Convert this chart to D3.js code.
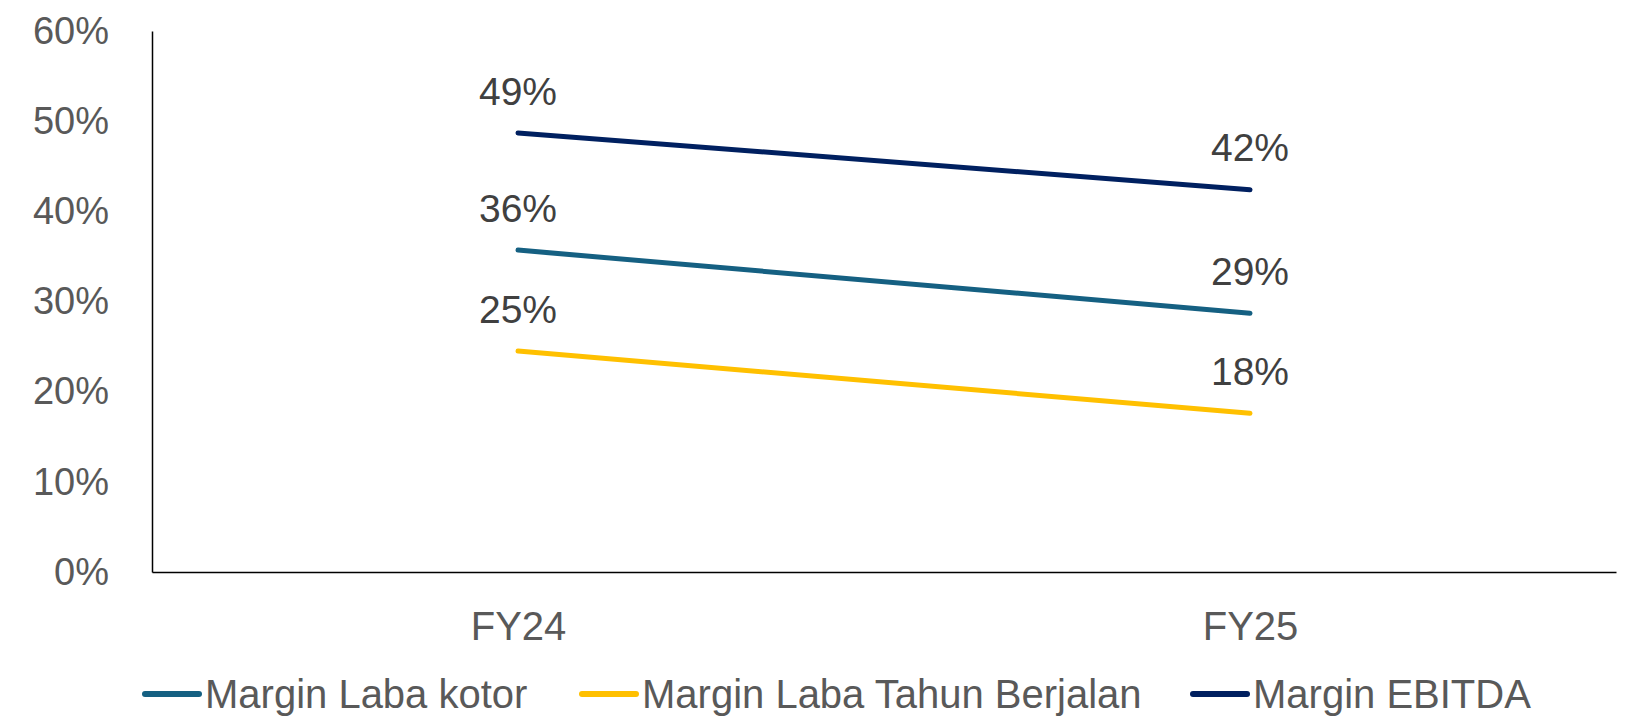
<!DOCTYPE html>
<html>
<head>
<meta charset="utf-8">
<script src="https://cdn.jsdelivr.net/npm/d3@7"></script>
<style>
  body { margin: 0; background: #fff; }
  .yaxis text { font-family: "Liberation Sans", Arial, sans-serif; font-size: 38px; fill: #595959; }
  .xaxis text { font-family: "Liberation Sans Narrow", "Arial Narrow", sans-serif; font-size: 40px; fill: #595959; }
  .lbl { font-family: "Liberation Sans", Arial, sans-serif; font-size: 39px; fill: #404040; }
  .legend text { font-family: "Liberation Sans Narrow", "Arial Narrow", sans-serif; font-size: 40px; fill: #595959; }
</style>
</head>
<body>
<div id="chart"></div>
<script>
(function () {

var categories = ['FY24', 'FY25'];
var seriesNames = ['Margin Laba kotor', 'Margin Laba Tahun Berjalan', 'Margin EBITDA'];
var seriesColors = ['#156082', '#FFC000', '#002060'];
var labaKotor = [0.357, 0.287];
var labaTahunBerjalan = [0.245, 0.176];
var ebitda = [0.487, 0.424];
var yTicks = [0, 0.1, 0.2, 0.3, 0.4, 0.5, 0.6];

var series = [labaKotor, labaTahunBerjalan, ebitda];

var W = 1629, H = 722;
var margin = {top: 31, right: 13, bottom: 150, left: 152},
    width = W - margin.left - margin.right,
    height = 572 - margin.top;

var pct = d3.format('.0%');

var svg = d3.select('#chart').append('svg')
    .attr('width', W)
    .attr('height', H);

var chart = svg.append('g')
    .attr('transform', 'translate(' + margin.left + ',' + margin.top + ')');

var x = d3.scalePoint()
    .domain(categories)
    .range([0, width])
    .padding(0.5);

var y = d3.scaleLinear()
    .domain([0, 0.6])
    .range([height, 0]);

var yAxis = d3.axisLeft(y)
    .tickValues(yTicks)
    .tickFormat(pct)
    .tickSize(0)
    .tickPadding(43);

var xAxis = d3.axisBottom(x)
    .tickSize(0)
    .tickPadding(40);

var gy = chart.append('g')
    .attr('class', 'yaxis')
    .call(yAxis);
gy.select('.domain').attr('stroke', '#000').attr('stroke-width', 1.5);

var gx = chart.append('g')
    .attr('class', 'xaxis')
    .attr('transform', 'translate(0,' + height + ')')
    .call(xAxis);
gx.select('.domain').attr('stroke', '#000').attr('stroke-width', 1.5);
gx.selectAll('text').attr('dy', '0.71em');

var line = d3.line()
    .x(function (d, i) { return x(categories[i]); })
    .y(function (d) { return y(d); });

series.forEach(function (vals, si) {
    chart.append('path')
        .attr('d', line(vals))
        .attr('fill', 'none')
        .attr('stroke', seriesColors[si])
        .attr('stroke-width', 5)
        .attr('stroke-linecap', 'round');

    chart.selectAll('.lbl-' + si)
        .data(vals)
        .enter()
        .append('text')
        .attr('class', 'lbl')
        .attr('x', function (d, i) { return x(categories[i]); })
        .attr('y', function (d) { return y(d) - 42; })
        .attr('dy', '0.35em')
        .attr('text-anchor', 'middle')
        .text(function (d) { return pct(d); });
});

// legend
var legendX = [145, 582, 1193];
var legend = svg.append('g')
    .attr('class', 'legend')
    .attr('transform', 'translate(0,694)');

var items = legend.selectAll('g')
    .data(seriesNames)
    .enter()
    .append('g')
    .attr('transform', function (d, i) { return 'translate(' + legendX[i] + ',0)'; });

items.append('line')
    .attr('x1', 0).attr('x2', 54)
    .attr('stroke', function (d, i) { return seriesColors[i]; })
    .attr('stroke-width', 6)
    .attr('stroke-linecap', 'round');

items.append('text')
    .attr('x', 60)
    .attr('dy', '0.35em')
    .text(function (d) { return d; });

}).call(this);
</script>
</body>
</html>
